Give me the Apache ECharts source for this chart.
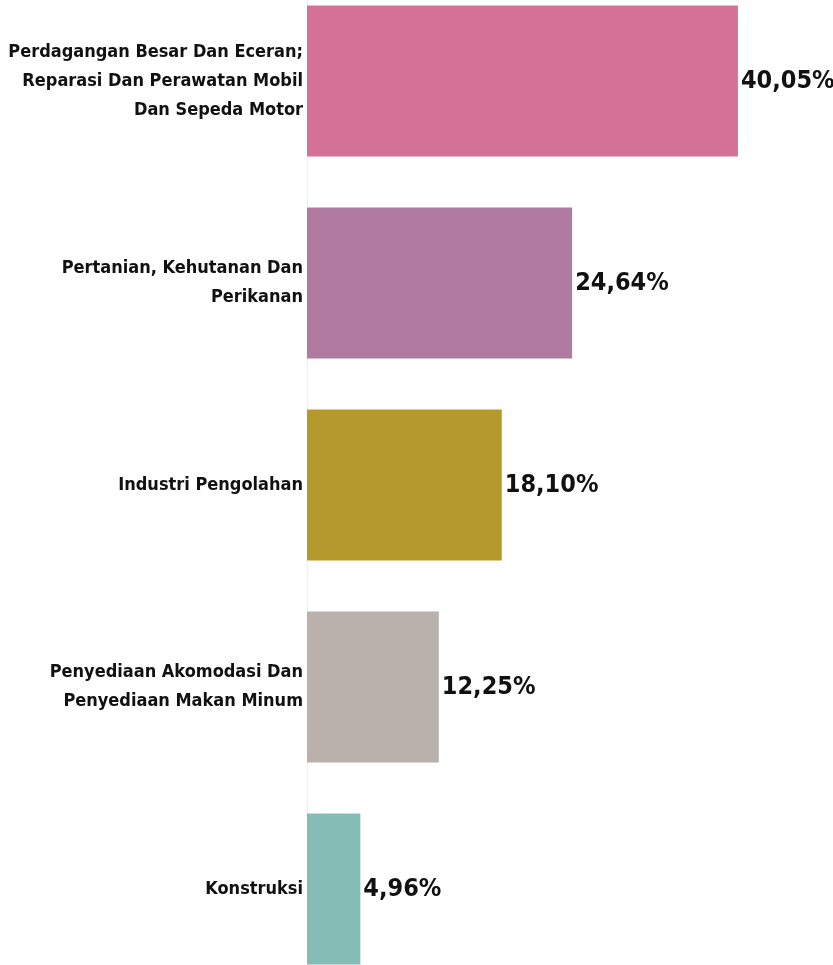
<!DOCTYPE html>
<html>
<head>
<meta charset="utf-8">
<script src="https://cdn.jsdelivr.net/npm/echarts@6/dist/echarts.min.js"></script>
<style>
  html, body { margin: 0; padding: 0; background: #fff; }
  #chart { width: 833px; height: 965px; }
</style>
</head>
<body>
<div id="chart"></div>
<script>
const categories = [
  'Perdagangan Besar Dan Eceran;\nReparasi Dan Perawatan Mobil\nDan Sepeda Motor',
  'Pertanian, Kehutanan Dan\nPerikanan',
  'Industri Pengolahan',
  'Penyediaan Akomodasi Dan\nPenyediaan Makan Minum',
  'Konstruksi'
]
const shares = [40.05, 24.64, 18.10, 12.25, 4.96]
const barColors = ['#d37295', '#b07aa1', '#b6992d', '#bab0ac', '#86bcb6']

const fontFamily = '"Liberation Sans Narrow", "Arial Narrow", "DejaVu Sans Condensed", sans-serif'

const myChart = echarts.init(document.getElementById('chart'))
const option = {
  animation: false,
  grid: {
    left: 307,
    top: -20,
    width: 538,
    height: 1010,
    outerBoundsMode: 'none',
    containLabel: false
  },
  xAxis: {
    type: 'value',
    min: 0,
    max: 50,
    show: false
  },
  yAxis: {
    type: 'category',
    inverse: true,
    data: categories,
    axisTick: { show: false },
    axisLine: { show: true, lineStyle: { color: '#f0f0f0', width: 1 } },
    axisLabel: {
      margin: 4,
      color: '#111',
      fontFamily: fontFamily,
      fontWeight: 'bold',
      fontSize: 18,
      lineHeight: 29,
      padding: [0, 0, 8, 0],
      align: 'right'
    }
  },
  series: [
    {
      type: 'bar',
      barWidth: 151,
      data: shares.map((v, i) => ({ value: v, itemStyle: { color: barColors[i] } })),
      label: {
        show: true,
        position: 'right',
        distance: 3,
        color: '#111',
        fontFamily: fontFamily,
        fontWeight: 'bold',
        fontSize: 25,
        formatter: p => p.value.toFixed(2).replace('.', ',') + '%'
      }
    }
  ]
}
myChart.setOption(option)
</script>
</body>
</html>
